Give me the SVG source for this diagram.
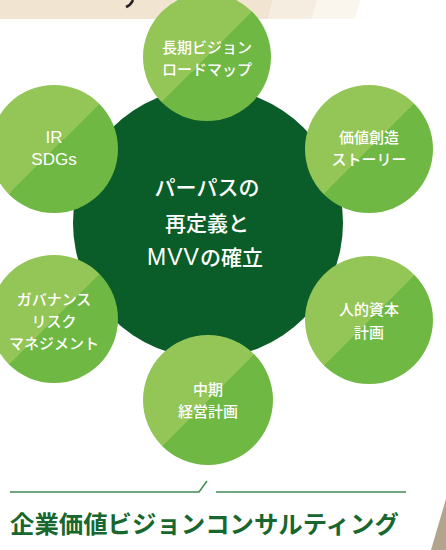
<svg xmlns="http://www.w3.org/2000/svg" width="446" height="550" viewBox="0 0 446 550">
<defs>
<style>
.sat text{font-family:"Noto Sans CJK JP","Noto Sans",sans-serif;font-size:15px;font-weight:500;fill:#ffffff;text-anchor:middle}
.core text{font-family:"Noto Sans CJK JP","Noto Sans",sans-serif;font-size:21px;font-weight:500;fill:#ffffff;text-anchor:middle}
.core .mvv{font-family:"Liberation Sans",sans-serif;font-size:23px;letter-spacing:1px}
.sat .lat{font-family:"Liberation Sans",sans-serif;font-size:17px;font-weight:400}
.title{font-family:"Noto Sans CJK JP","Noto Sans",sans-serif;font-size:24.4px;font-weight:700;fill:#17672f}
.rule{stroke:#3f8a55;stroke-width:1.5;fill:none}
</style>
<linearGradient id="split" x1="0" y1="0" x2="1" y2="1">
<stop offset="0.5" stop-color="#93c557"/>
<stop offset="0.5" stop-color="#6eb843"/>
</linearGradient>
</defs>
<rect width="446" height="550" fill="#ffffff"/>
<g id="band">
<polygon points="0,0 273,0 268,19 0,19" fill="#f1e5d1"/>
<polygon points="273,0 317,0 312,19 268,19" fill="#f5ede0"/>
<polygon points="317,0 360,0 355,19 312,19" fill="#faf6ee"/>
<path d="M133,0 Q131,5 126,7" stroke="#222" stroke-width="2.5" fill="none"/>
</g>
<polygon points="448,492 431,550 446,550" fill="#b3a48e"/>
<g id="core" class="core">
<circle cx="208" cy="223" r="135" fill="#0a5d28"/>
<text x="207" y="195">パーパスの</text>
<text x="207" y="231">再定義と</text>
<text x="205" y="265"><tspan class="mvv">MVV</tspan>の確立</text>
</g>
<g id="n-longterm" class="sat">
<circle cx="207" cy="57" r="64" fill="url(#split)"/>
<text x="207" y="53">長期ビジョン</text>
<text x="207" y="75">ロードマップ</text>
</g>
<g id="n-ir" class="sat">
<circle cx="54" cy="149" r="64" fill="url(#split)"/>
<text class="lat" x="54" y="143">IR</text>
<text class="lat" x="54" y="165">SDGs</text>
</g>
<g id="n-value" class="sat">
<circle cx="369" cy="149" r="64" fill="url(#split)"/>
<text x="369" y="143">価値創造</text>
<text x="369" y="165">ストーリー</text>
</g>
<g id="n-gov" class="sat">
<circle cx="54" cy="319" r="64" fill="url(#split)"/>
<text x="54" y="305">ガバナンス</text>
<text x="54" y="327">リスク</text>
<text x="54" y="349">マネジメント</text>
</g>
<g id="n-human" class="sat">
<circle cx="369" cy="320" r="64" fill="url(#split)"/>
<text x="369" y="315">人的資本</text>
<text x="369" y="338">計画</text>
</g>
<g id="n-mid" class="sat">
<circle cx="208" cy="400" r="65" fill="url(#split)"/>
<text x="208" y="395">中期</text>
<text x="208" y="417">経営計画</text>
</g>
<g id="connectors">
<path class="rule" d="M10,492 H199 L207,481"/>
<path class="rule" d="M216,492 H406"/>
</g>
<text class="title" x="10" y="533">企業価値ビジョンコンサルティング</text>
</svg>
